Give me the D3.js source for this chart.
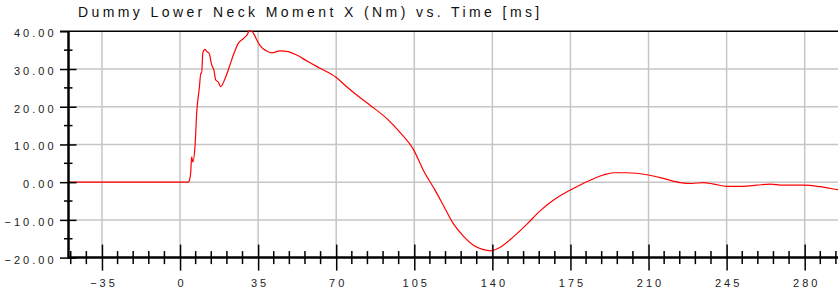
<!DOCTYPE html>
<html>
<head>
<meta charset="utf-8">
<script src="https://cdn.jsdelivr.net/npm/d3@7"></script>
<style>
  body { margin: 0; background: #fff; }
  svg { display: block; font-family: "Liberation Sans", Arial, sans-serif; }
  .lbl { font-size: 11px; letter-spacing: 3px; fill: #222; }
  .title { font-size: 14px; letter-spacing: 3.4px; fill: #111; }
</style>
</head>
<body>
<div id="chart"></div>
<script>
// time in ms
const timeMs = [-50, 3.7, 4.2, 4.8, 5.2, 5.7, 6.7, 7.5, 8.7, 9.3, 9.7, 10.2, 11.2, 12, 13, 14.2, 15.2, 16, 17.2, 18.2,
  20.2, 22.1, 23.9, 26.1, 28.4, 30.2, 31, 32.1, 33.2, 34.4, 35.9, 37.4, 38.8, 41.1, 44.8, 48.5, 52.3, 57.5, 62.8, 69.9,
  74.7, 79.2, 85.2, 92.6, 98.6, 104.6, 109.1, 114.3, 118, 122.5, 127, 131.5, 136, 139.4, 143.4, 149.4, 155.4, 161.4,
  167.3, 173.3, 177, 182.3, 189.8, 194.3, 200.2, 209.9, 216.7, 224.1, 229.4, 234.6, 239.1, 245.1, 252.5, 258.5, 264.5,
  270.4, 279.4, 286.9, 294.8, 298];
// moment in Nm
const momentNm = [0, 0, 0.5, 2.7, 6.7, 5.4, 9.4, 18.7, 25.3, 28.9, 28.9, 34.2, 35.2, 34.6, 34.2, 31.1, 29.7, 27.1, 26.5, 25.3,
  27.5, 30.6, 33.7, 36.8, 38.1, 39.2, 40.1, 40, 39.2, 37.7, 36.2, 35.3, 34.8, 34.3, 34.8, 34.6, 33.7, 31.9, 30.2, 27.8,
  25.3, 23.1, 20.4, 16.9, 13.2, 8.7, 3.1, -2.1, -6.1, -11.0, -14.3, -16.7, -17.9, -18.2, -17.3, -14.5, -11.2, -7.6,
  -4.8, -2.6, -1.5, 0.1, 1.9, 2.5, 2.5, 1.9, 1.0, -0.1, -0.35, -0.1, -0.5, -1.1, -1.1, -0.8, -0.5,
  -0.8, -0.8, -1.2, -2.0, -2.3];

const xMajor = d3.range(-35, 281, 35);
const xMinor = d3.range(-49, 299, 7).filter(v => v % 35 !== 0);
const yMajor = d3.range(-20, 41, 10);
const yMinor = d3.range(-15, 36, 10);
const yFormat = d3.format('.2f');
const chartTitle = 'Dummy Lower Neck Moment X (Nm) vs. Time [ms]';

const width = 838, height = 295;
const svg = d3.select('#chart').append('svg').attr('width', width).attr('height', height);

const x = d3.scaleLinear().domain([-50, 300]).range([68.5, 849.3]);
const y = d3.scaleLinear().domain([-20, 40]).range([257.6, 31.3]);

// grid
svg.append('g').selectAll('line.vg').data(xMajor).join('line')
  .attr('x1', d => x(d)).attr('x2', d => x(d)).attr('y1', y(40)).attr('y2', y(-20))
  .attr('stroke', '#c6c6c6').attr('stroke-width', 1.5);
svg.append('g').selectAll('line.hg').data(yMajor.filter(v => v > -20 && v < 40)).join('line')
  .attr('x1', x(-50)).attr('x2', width).attr('y1', d => y(d)).attr('y2', d => y(d))
  .attr('stroke', '#c6c6c6').attr('stroke-width', 1.5);

// top border
svg.append('line').attr('x1', 60).attr('x2', width).attr('y1', y(40)).attr('y2', y(40))
  .attr('stroke', '#000').attr('stroke-width', 1.5);

// data line
const line = d3.line().x((d, i) => x(timeMs[i])).y(d => y(d)).curve(d3.curveMonotoneX);
svg.append('path').datum(momentNm).attr('d', line)
  .attr('fill', 'none').attr('stroke', '#ff0000').attr('stroke-width', 1.2);

// x axis
const xAxis = svg.append('g').attr('transform', `translate(0,${y(-20)})`)
  .call(d3.axisBottom(x).tickValues(xMajor).tickSize(13).tickFormat(d3.format('d')));
xAxis.select('.domain').remove();
xAxis.selectAll('.tick line').attr('y1', -13).attr('stroke', '#000').attr('stroke-width', 1.5);
xAxis.selectAll('.tick text').attr('class', 'lbl').attr('y', 29.5).attr('dy', null).attr('dx', 1.5);
xAxis.selectAll('line.minor').data(xMinor).join('line').attr('class', 'minor')
  .attr('x1', d => x(d)).attr('x2', d => x(d)).attr('y1', -6.5).attr('y2', 6.5)
  .attr('stroke', '#000').attr('stroke-width', 1.5);
xAxis.append('line').attr('x1', x(-50)).attr('x2', width).attr('y1', 0).attr('y2', 0)
  .attr('stroke', '#000').attr('stroke-width', 2.5);

// y axis
const yAxis = svg.append('g').attr('transform', `translate(${x(-50)},0)`)
  .call(d3.axisLeft(y).tickValues(yMajor).tickSize(8.5).tickFormat(yFormat));
yAxis.select('.domain').remove();
yAxis.selectAll('.tick line').attr('x2', d => d === 40 ? 0 : 8).attr('x1', -8.5).attr('stroke', '#000').attr('stroke-width', 1.5);
yAxis.selectAll('.tick text').attr('class', 'lbl').attr('x', -12).attr('dy', '0.5em');
yAxis.selectAll('line.minor').data(yMinor).join('line').attr('class', 'minor')
  .attr('x1', -4.5).attr('x2', 4).attr('y1', d => y(d)).attr('y2', d => y(d))
  .attr('stroke', '#000').attr('stroke-width', 1.5);
yAxis.append('line').attr('x1', 0).attr('x2', 0).attr('y1', y(40)).attr('y2', y(-20) + 1)
  .attr('stroke', '#000').attr('stroke-width', 2.5);

// title
svg.append('text').attr('class', 'title').attr('x', 78).attr('y', 16.7).text(chartTitle);
</script>
</body>
</html>
